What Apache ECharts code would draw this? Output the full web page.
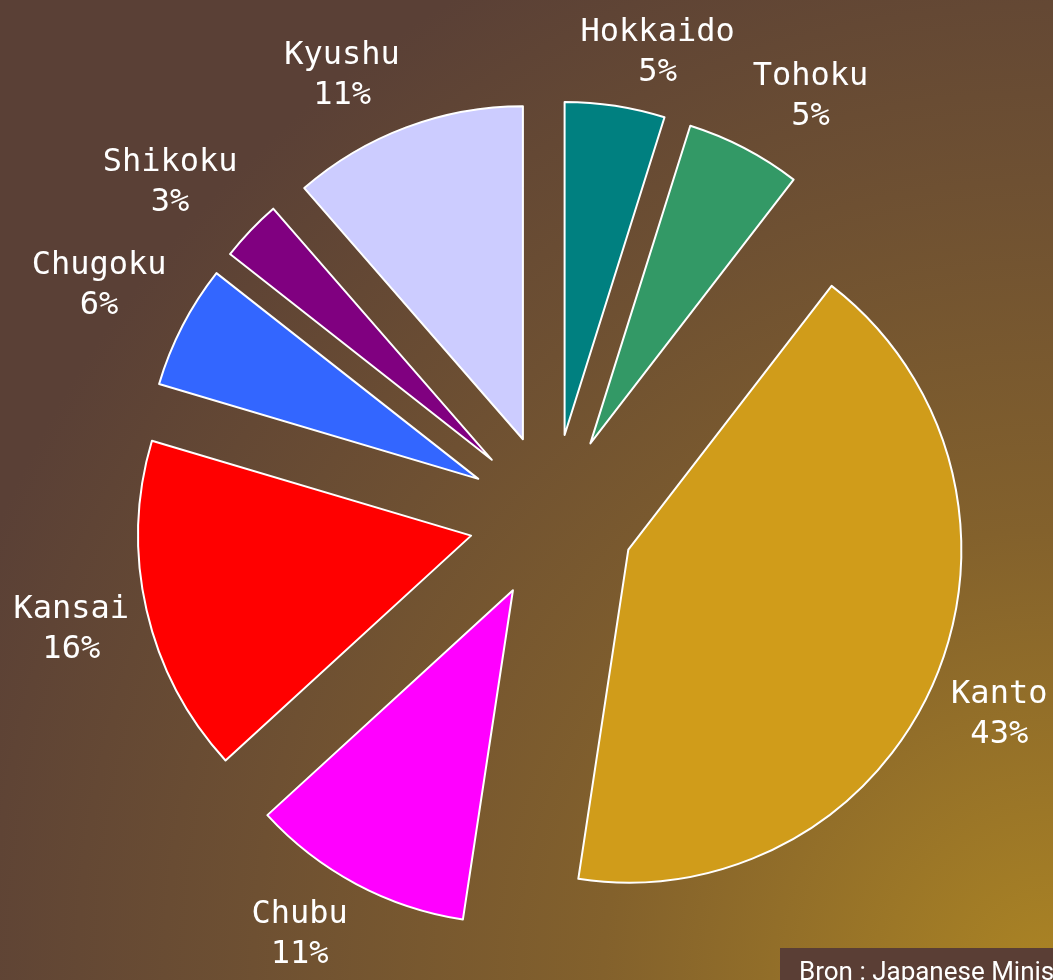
<!DOCTYPE html>
<html>
<head>
<meta charset="utf-8">
<script src="https://cdn.jsdelivr.net/npm/echarts@6/dist/echarts.min.js"></script>
<style>
  html, body { margin: 0; padding: 0; }
  #chartWrapper {
    width: 1053px; height: 980px;
    background: radial-gradient(circle at 100% 100%, #ab8424 0px, #83612c 450px, #6e5032 800px, #5a4036 1150px);
  }
</style>
</head>
<body>
<div id="chartWrapper"></div>
<script>
// slice sizes, labels as printed on it
let regions = ['Hokkaido', 'Tohoku', 'Kanto', 'Chubu', 'Kansai', 'Chugoku', 'Shikoku', 'Kyushu'];
let shares = [4.85, 5.6, 41.95, 10.8, 16.4, 6.0, 3.0, 11.4];
let shareLabels = ['5%', '5%', '43%', '11%', '16%', '6%', '3%', '11%'];
let colors = ['#008080', '#339966', '#d09c1a', '#ff00ff', '#ff0000', '#3366ff', '#800080', '#ccccff'];

let pieCenter = [552, 517];
let pieRadius = 333;
let explode = 83;

let myChart = echarts.init(document.getElementById('chartWrapper'));

function clamp(v) {
    return Math.max(-1, Math.min(1, v));
}

let labelFont = {
    color: '#ffffff',
    fontFamily: 'DejaVu Sans Mono',
    fontSize: 32,
    lineHeight: 40
};

// every slice is its own pie (slice + invisible rest) so it can be pulled out
let total = shares.reduce(function (a, b) { return a + b; }, 0);
let seriesData = [];
let acc = 0;
for (let i = 0; i < regions.length; i++) {
    let startDeg = acc / total * 360;
    let mid = (acc + shares[i] / 2) / total * 2 * Math.PI;
    acc += shares[i];
    let s = Math.sin(mid), c = Math.cos(mid);
    let chars = Math.max(regions[i].length, shareLabels[i].length);
    let w = chars * 0.602 * labelFont.fontSize, h = 70;
    let d = pieRadius + explode + 18;
    let labelX = pieCenter[0] + d * s + clamp(3.4 * s) * w / 2;
    let labelY = pieCenter[1] - d * c + clamp(-2 * c) * h / 2;
    seriesData.push({
        name: regions[i],
        type: 'pie',
        center: [pieCenter[0] + explode * s, pieCenter[1] - explode * c],
        radius: [0, pieRadius],
        startAngle: 90 - startDeg,
        clockwise: true,
        avoidLabelOverlap: false,
        silent: true,
        emphasis: { disabled: true },
        labelLine: { show: false },
        label: Object.assign({
            show: true,
            position: 'outside',
            formatter: regions[i] + '\n' + shareLabels[i]
        }, labelFont),
        labelLayout: function () {
            return { x: labelX, y: labelY, align: 'center', verticalAlign: 'middle' };
        },
        data: [{
            name: regions[i],
            value: shares[i],
            itemStyle: { color: colors[i], borderColor: '#ffffff', borderWidth: 2 }
        }, {
            name: '',
            value: total - shares[i],
            itemStyle: { color: 'rgba(0,0,0,0)', borderWidth: 0 },
            label: { show: false }
        }]
    });
}

let option = {
    backgroundColor: 'transparent',
    animation: false,
    series: seriesData,
    graphic: [{
        type: 'rect',
        left: 780, top: 948,
        shape: { width: 300, height: 40 },
        style: { fill: '#5a3e35' }
    }, {
        type: 'text',
        left: 799, top: 960,
        style: {
            text: 'Bron : Japanese Ministry of Internal Affairs',
            fill: '#ffffff',
            font: '26px Roboto'
        }
    }]
};

myChart.setOption(option);
</script>
</body>
</html>
